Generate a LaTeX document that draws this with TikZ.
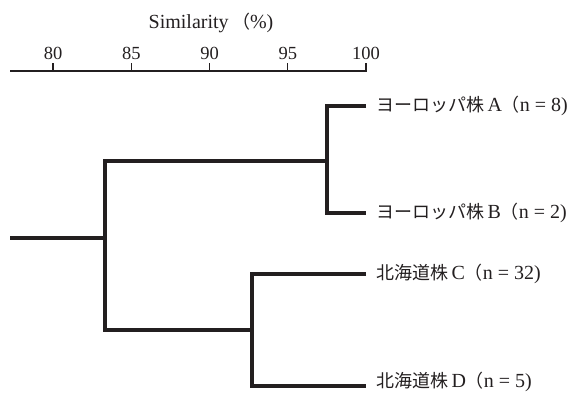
\documentclass[tikz,border=0pt]{standalone}
\usepackage{fontspec}
\setmainfont{Liberation Serif}
\newfontfamily\cjk[Scale=0.9]{Noto Sans CJK JP}
\definecolor{ink}{HTML}{231F20}
\begin{document}
\begin{tikzpicture}[x=1pt,y=-1pt,
  branch/.style={draw=ink,line width=3.3pt,line join=miter,line cap=butt},
  axisline/.style={draw=ink,line width=1.1pt},
  tickmark/.style={draw=ink,line width=1.1pt},
  ticklabel/.style={font=\fontsize{18.5}{22}\selectfont,text=ink,anchor=base,inner sep=0pt},
  leaflabel/.style={font=\fontsize{20}{22}\selectfont,text=ink,anchor=west,inner sep=0pt},
  titlelabel/.style={font=\fontsize{20}{22}\selectfont,text=ink,anchor=base,inner sep=0pt}]
\useasboundingbox (0,0) rectangle (576,393);

% similarity axis
\node[titlelabel] (title) at (211,29) {Similarity\,{\cjk （}\%)};
\coordinate (ax0) at (10,71);
\coordinate (ax1) at (366.5,71);
\draw[axisline] (ax0) -- (ax1);
\foreach \v/\x in {80/53,85/131.3,90/209.5,95/287.8,100/366}{
  \coordinate (t\v) at (\x,71);
  \draw[tickmark] (t\v) -- ++(0,-8);
  \node[ticklabel] (l\v) at (\x,60) {\v};
}

% dendrogram joins and leaf ends
\coordinate (root) at (10,238);
\coordinate (j1) at (105,238);
\coordinate (jAB) at (327,161);
\coordinate (jCD) at (252,330);
\coordinate (eA) at (366,106);
\coordinate (eB) at (366,213);
\coordinate (eC) at (366,274);
\coordinate (eD) at (366,386);

\draw[branch] (root) -- (j1);
\draw[branch] (jAB) -| (j1) |- (jCD);
\draw[branch] (eA) -| (jAB) |- (eB);
\draw[branch] (eC) -| (jCD) |- (eD);

% leaf labels
\node[leaflabel] (lA) at (376,106) {{\cjk ヨーロッパ株}\,A{\cjk （}n = 8)};
\node[leaflabel] (lB) at (376,213) {{\cjk ヨーロッパ株}\,B{\cjk （}n = 2)};
\node[leaflabel] (lC) at (376,274) {{\cjk 北海道株}\,C{\cjk （}n = 32)};
\node[leaflabel] (lD) at (376,382) {{\cjk 北海道株}\,D{\cjk （}n = 5)};
\end{tikzpicture}
\end{document}
